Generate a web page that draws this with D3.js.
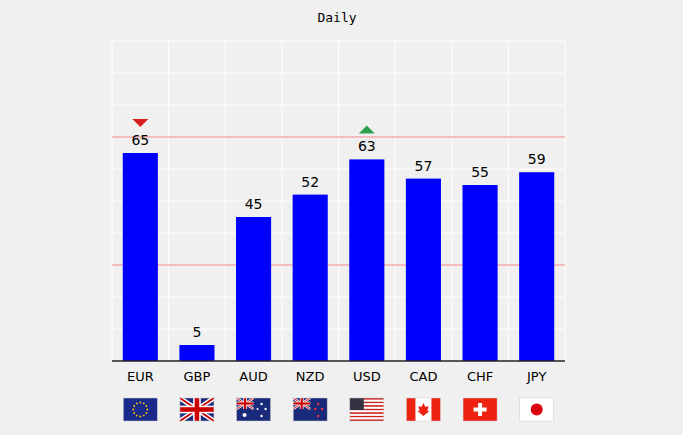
<!DOCTYPE html><html><head><meta charset="utf-8"><script src="https://d3js.org/d3.v7.min.js"></script>
<style>body{margin:0;background:#f0f0f0}</style></head><body><svg id="c" width="683" height="435"></svg>
<script>
const categories=["EUR","GBP","AUD","NZD","USD","CAD","CHF","JPY"];
const values=[65,5,45,52,63,57,55,59];
const markers=[{cat:"EUR",dir:"down"},{cat:"USD",dir:"up"}];
const refLines=[30,70];
const yTicks=[0,10,20,30,40,50,60,70,80,90,100];
const svg=d3.select("#c");
svg.append("rect").attr("width",683).attr("height",435).attr("fill","#f0f0f0");
const x=d3.scaleBand().domain(categories).range([112,565]).paddingInner(0.38).paddingOuter(0.19);
const y=d3.scaleLinear().domain([0,100]).range([361,41]);
const g=svg.append("g");
g.selectAll(".h").data(yTicks).join("line").attr("x1",112).attr("x2",565).attr("y1",d=>y(d)).attr("y2",d=>y(d)).attr("stroke","#fff").attr("stroke-width",1);
const step=x.step();
g.selectAll(".v").data(d3.range(categories.length+1)).join("line").attr("x1",i=>112+i*step).attr("x2",i=>112+i*step).attr("y1",y(100)).attr("y2",y(0)).attr("stroke","#fff");
g.selectAll(".r").data(refLines).join("line").attr("x1",112).attr("x2",565).attr("y1",d=>y(d)).attr("y2",d=>y(d)).attr("stroke","#f08080").attr("stroke-width",1);
g.selectAll(".b").data(values).join("rect").attr("x",(d,i)=>x(categories[i])).attr("width",x.bandwidth()).attr("y",d=>y(d)).attr("height",d=>y(0)-y(d)).attr("fill","#0000ff");
g.selectAll(".t").data(values).join("text").attr("x",(d,i)=>x(categories[i])+x.bandwidth()/2).attr("y",d=>y(d)-8).attr("text-anchor","middle").attr("font-family","DejaVu Sans").attr("font-size",14).text(d=>d);
svg.append("line").attr("x1",112).attr("x2",565).attr("y1",y(0)).attr("y2",y(0)).attr("stroke","#222").attr("stroke-width",1.5);
g.selectAll(".l").data(categories).join("text").attr("x",d=>x(d)+x.bandwidth()/2).attr("y",381).attr("text-anchor","middle").attr("font-family","DejaVu Sans").attr("font-size",13).text(d=>d);
svg.append("text").attr("x",337).attr("y",22).attr("text-anchor","middle").attr("font-family","DejaVu Sans Mono").attr("font-size",13).text("Daily");
markers.forEach(m=>{const v=values[categories.indexOf(m.cat)];const cx=x(m.cat)+x.bandwidth()/2;const ty=y(v)-30;
 const p=m.dir=="down"?`M${cx-8},${ty-4}L${cx+8},${ty-4}L${cx},${ty+4}Z`:`M${cx-8},${ty+4}L${cx+8},${ty+4}L${cx},${ty-4}Z`;
 svg.append("path").attr("d",p).attr("fill",m.dir=="down"?"#d62020":"#30a050");});
// flags
const fw=34,fh=23,fy=398;
categories.forEach(c=>{const fx=x(c)+x.bandwidth()/2-fw/2;const f=svg.append("g").attr("transform",`translate(${fx},${fy})`);
 const R=(a,b,w,h,col)=>f.append("rect").attr("x",a).attr("y",b).attr("width",w).attr("height",h).attr("fill",col);
 if(c=="EUR"){R(0,0,fw,fh,"#1a2a8a");d3.range(12).forEach(k=>{const a=k*Math.PI/6;f.append("circle").attr("cx",17+7*Math.cos(a)).attr("cy",11.5+7*Math.sin(a)).attr("r",0.9).attr("fill","#fc0");});}
 const uk=(w,h)=>{R(0,0,w,h,"#1a2a7a");f.append("path").attr("d",`M0,0L${w},${h}M${w},0L0,${h}`).attr("stroke","#fff").attr("stroke-width",h/5);f.append("path").attr("d",`M0,0L${w},${h}M${w},0L0,${h}`).attr("stroke","#c00").attr("stroke-width",h/12);R(w/2-h/6,0,h/3,h,"#fff");R(0,h/2-h/6,w,h/3,"#fff");R(w/2-h/10,0,h/5,h,"#c00");R(0,h/2-h/10,w,h/5,"#c00");};
 if(c=="GBP")uk(fw,fh);
 if(c=="AUD"||c=="NZD"){R(0,0,fw,fh,"#1a2a7a");uk(17,11);const st=c=="AUD"?[[8,17,2],[25,6,1.2],[29,11,1.2],[25,18,1.2],[21,11,1]]:[[25,6,1.2],[29,11,1.2],[25,18,1.2],[22,11,1.2]];st.forEach(s=>f.append("circle").attr("cx",s[0]).attr("cy",s[1]).attr("r",s[2]).attr("fill",c=="AUD"?"#fff":"#e33"));}
 if(c=="USD"){d3.range(7).forEach(k=>R(0,k*fh/6.5,fw,fh/13,"#c22"));d3.range(6).forEach(k=>R(0,fh/13+k*fh/6.5,fw,fh/13,"#fff"));R(0,0,14,12,"#334");}
 if(c=="CAD"){R(0,0,fw,fh,"#fff");R(0,0,9,fh,"#e21");R(25,0,9,fh,"#e21");f.append("path").attr("d","M17,5L19,9L22,8L21,13L23,13L17,18L11,13L13,13L12,8L15,9Z").attr("fill","#e21");}
 if(c=="CHF"){R(0,0,fw,fh,"#e21");R(15,5,4,13,"#fff");R(10.5,9.5,13,4,"#fff");}
 if(c=="JPY"){R(0,0,fw,fh,"#fff");f.append("circle").attr("cx",17).attr("cy",11.5).attr("r",6).attr("fill","#d01");}
 f.append("rect").attr("width",fw).attr("height",fh).attr("fill","none").attr("stroke","#ccc").attr("stroke-width",0.5);
});
</script></body></html>
